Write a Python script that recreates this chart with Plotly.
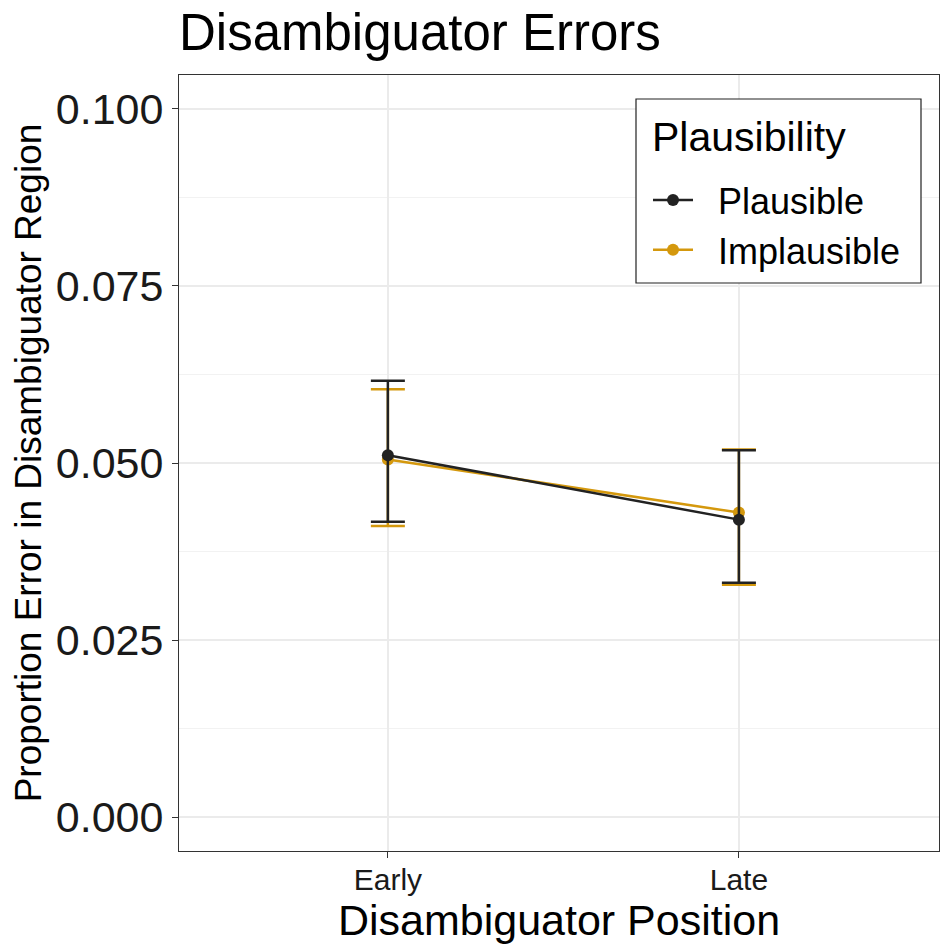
import plotly.graph_objects as go

positions = ["Early", "Late"]
plaus_mean = [0.0511, 0.0420]
plaus_hi = [0.0616, 0.0518]
plaus_lo = [0.0417, 0.0331]
implaus_mean = [0.0505, 0.0430]
implaus_hi = [0.0604, 0.0519]
implaus_lo = [0.0411, 0.0328]
y_ticks = [0.0, 0.025, 0.05, 0.075, 0.1]
y_tick_labels = ["0.000", "0.025", "0.050", "0.075", "0.100"]

BLACK = "#222222"
ORANGE = "#D4980D"
FONT = "Liberation Sans, Arial, Helvetica, sans-serif"

# plot area in pixels (for converting layout positions)
PL, PR, PT, PB = 179, 939, 75, 851
def px(x): return (x - PL) / (PR - PL)
def py(y): return (PB - y) / (PB - PT)

def trace(name, mean, hi, lo, color, rank):
    return go.Scatter(
        x=positions, y=mean, name="\u00a0\u00a0" + name, mode="lines+markers",
        line=dict(color=color, width=2.5),
        marker=dict(color=color, size=12),
        error_y=dict(type="data", symmetric=False,
                     array=[h - m for h, m in zip(hi, mean)],
                     arrayminus=[m - l for m, l in zip(mean, lo)],
                     color=color, thickness=2.5, width=17),
        legendrank=rank,
    )

fig = go.Figure()
fig.add_trace(trace("Implausible", implaus_mean, implaus_hi, implaus_lo, ORANGE, 2))
fig.add_trace(trace("Plausible", plaus_mean, plaus_hi, plaus_lo, BLACK, 1))

fig.update_layout(
    width=940, height=946,
    margin=dict(l=PL, r=940 - PR, t=PT, b=946 - PB),
    paper_bgcolor="white", plot_bgcolor="white",
    font=dict(family=FONT, color="black"),
    title=dict(text="Disambiguator Errors", x=PL / 940, xanchor="left",
               y=1 - 32 / 946, yanchor="middle", font=dict(size=51, color="black")),
    legend=dict(font=dict(size=36), x=px(648), xanchor="left",
                y=py(170), yanchor="top",
                borderwidth=0, bgcolor="rgba(0,0,0,0)",
                itemwidth=40, tracegroupgap=0),
    showlegend=True,
    shapes=[dict(type="rect", xref="paper", yref="paper",
                 x0=px(636), x1=px(921), y0=py(283), y1=py(99),
                 line=dict(color="#222222", width=1.2), fillcolor="white", layer="above")],
    annotations=[dict(text="Plausibility", xref="paper", yref="paper",
                      x=px(650), xanchor="left", y=py(137), yanchor="middle",
                      showarrow=False, font=dict(size=41, color="black"))],
)
fig.update_xaxes(
    type="category", range=[-0.595, 1.57],
    showgrid=True, gridcolor="#ebebeb", gridwidth=2,
    showline=True, mirror=True, linecolor="#333333", linewidth=1,
    ticks="outside", ticklen=6, tickcolor="#333333",
    tickfont=dict(size=30, color="#1a1a1a"), ticklabelstandoff=-4,
    title=dict(text="Disambiguator Position", font=dict(size=43), standoff=5),
    zeroline=False,
)
fig.update_yaxes(
    range=[-0.0048, 0.1048],
    tickvals=y_ticks, ticktext=y_tick_labels,
    showgrid=True, gridcolor="#ebebeb", gridwidth=2,
    minor=dict(tickvals=[0.0125, 0.0375, 0.0625, 0.0875], showgrid=True,
               gridcolor="#f2f2f2", gridwidth=1, ticks=""),
    showline=True, mirror=True, linecolor="#333333", linewidth=1,
    ticks="outside", ticklen=6, tickcolor="#333333",
    tickfont=dict(size=43, color="#1a1a1a"),
    title=dict(text="Proportion Error in Disambiguator Region", font=dict(size=37), standoff=2),
    zeroline=False,
)
fig.write_html("out.html")
